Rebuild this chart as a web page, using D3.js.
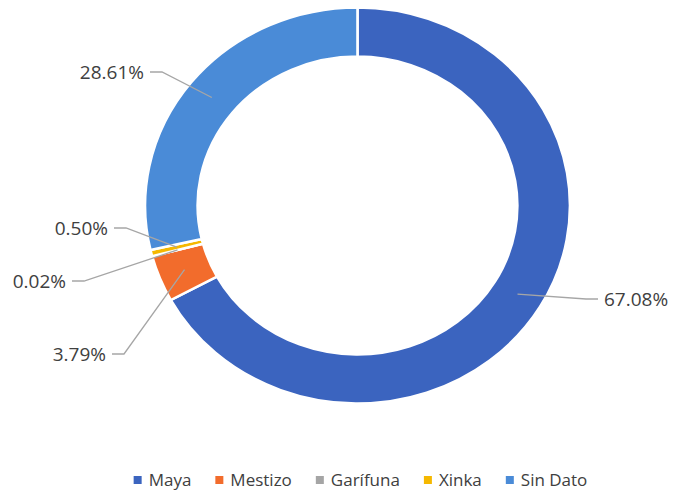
<!DOCTYPE html>
<html>
<head>
<meta charset="utf-8">
<script src="https://cdn.jsdelivr.net/npm/d3@7"></script>
<style>
  body { margin: 0; background: #fff; }
  text { font-family: "Open Sans", "Liberation Sans", sans-serif; fill: #404040; }
</style>
</head>
<body>
<script>
// data
const categories = ["Maya", "Mestizo", "Garífuna", "Xinka", "Sin Dato"];
const shares = [67.08, 3.79, 0.02, 0.50, 28.61];
const valueLabels = ["67.08%", "3.79%", "0.02%", "0.50%", "28.61%"];
const colors = ["#3b64bf", "#f26c2c", "#a5a5a5", "#f5b800", "#4a8bd7"];

// where each label sits (text edge) and which side the text runs
const labelAnchors = [
  { x: 604, y: 299, side: "right" },
  { x: 106, y: 354, side: "left" },
  { x: 66,  y: 281, side: "left" },
  { x: 108, y: 228, side: "left" },
  { x: 144, y: 72,  side: "left" }
];

const width = 673, height = 494;
const cx = 357.5, cy = 205.5;
const outerR = 198, innerR = 149;
const sx = 1.073; // scan is slightly wider than tall

const svg = d3.select("body").append("svg")
  .attr("width", width)
  .attr("height", height);

const pie = d3.pie().sort(null).value(d => d);
const arcs = pie(shares);
const arcGen = d3.arc().innerRadius(innerR).outerRadius(outerR);

svg.append("g")
  .attr("transform", `translate(${cx},${cy}) scale(${sx},1)`)
  .selectAll("path")
  .data(arcs)
  .enter()
  .append("path")
  .attr("d", arcGen)
  .attr("fill", (d, i) => colors[i])
  .attr("stroke", "#fff")
  .attr("stroke-width", 2.4);

// leader lines + labels
const midR = (innerR + outerR) / 2;
const lineGen = d3.line();
const labels = svg.append("g");

arcs.forEach((d, i) => {
  const a = (d.startAngle + d.endAngle) / 2;
  const px = cx + sx * midR * Math.sin(a);
  const py = cy - midR * Math.cos(a);
  const lab = labelAnchors[i];
  const dir = lab.side === "right" ? -1 : 1;
  const start = [lab.x + dir * 6, lab.y];
  const elbow = [lab.x + dir * 18, lab.y];
  labels.append("path")
    .attr("d", lineGen([start, elbow, [px, py]]))
    .attr("fill", "none")
    .attr("stroke", "#a6a6a6")
    .attr("stroke-width", 1.3);
  labels.append("text")
    .attr("x", lab.x)
    .attr("y", lab.y)
    .attr("dy", "0.35em")
    .attr("text-anchor", lab.side === "right" ? "start" : "end")
    .style("font-size", "19px")
    .text(valueLabels[i]);
});

// legend
const legend = svg.append("g");
const legendY = 480;
let xPos = 0;
categories.forEach((c, i) => {
  const g = legend.append("g");
  g.append("rect")
    .attr("x", 0).attr("y", -4)
    .attr("width", 8).attr("height", 8)
    .attr("fill", colors[i]);
  const t = g.append("text")
    .attr("x", 15)
    .attr("y", 0)
    .attr("dy", "0.35em")
    .style("font-size", "17px")
    .text(c);
  const w = 15 + t.node().getComputedTextLength();
  g.attr("transform", `translate(${xPos},${legendY})`);
  xPos += w + 24;
});
const totalW = xPos - 24;
legend.attr("transform", `translate(${(124 + 597) / 2 - totalW / 2},0)`);
</script>
</body>
</html>
